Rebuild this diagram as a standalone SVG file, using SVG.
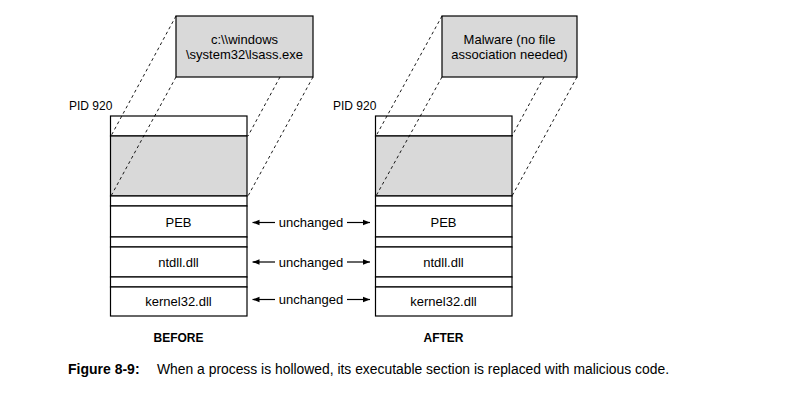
<svg xmlns="http://www.w3.org/2000/svg" width="800" height="418" viewBox="0 0 800 418">
<defs>
<marker id="ah" viewBox="0 0 10 10" refX="10" refY="5" markerWidth="7" markerHeight="7" markerUnits="userSpaceOnUse" orient="auto-start-reverse">
<path d="M0,1 L10,5 L0,9 Z" fill="#000"/>
</marker>
</defs>
<style>
.box{stroke:#000;stroke-width:1.2}
.g{fill:#d9d9d9}
.w{fill:#fff}
.t{font-family:"Liberation Sans",Arial,sans-serif;font-size:13px;fill:#000}
.p{font-family:"Liberation Sans",Arial,sans-serif;font-size:12px;fill:#000}
.b{font-family:"Liberation Sans",Arial,sans-serif;font-size:12px;font-weight:bold;fill:#000}
.d{stroke:#000;stroke-width:0.9;stroke-dasharray:3,3;fill:none}
.a{stroke:#000;stroke-width:1.2;fill:none}
.c{font-family:"Liberation Sans",Arial,sans-serif;font-size:14px;fill:#000}
</style>
<rect width="800" height="418" fill="#fff"/>

<g id="before-file">
<rect class="box g" x="176" y="16" width="137" height="61"/>
<text class="t" x="244.5" y="44" text-anchor="middle">c:\\windows</text>
<text class="t" x="244.5" y="59" text-anchor="middle">\system32\lsass.exe</text>
</g>
<g id="after-file">
<rect class="box g" x="442" y="16" width="135" height="61"/>
<text class="t" x="509.5" y="44" text-anchor="middle">Malware (no file</text>
<text class="t" x="509.5" y="59" text-anchor="middle">association needed)</text>
</g>

<g id="before-stack">
<rect class="box w" x="110.5" y="116" width="136.5" height="20"/>
<rect class="box g" x="110.5" y="136" width="136.5" height="60"/>
<rect class="box w" x="110.5" y="196" width="136.5" height="10"/>
<rect class="box w" x="110.5" y="206" width="136.5" height="31"/>
<rect class="box w" x="110.5" y="237" width="136.5" height="10"/>
<rect class="box w" x="110.5" y="247" width="136.5" height="30"/>
<rect class="box w" x="110.5" y="277" width="136.5" height="10"/>
<rect class="box w" x="110.5" y="287" width="136.5" height="29"/>
<text class="t" x="178.5" y="226.5" text-anchor="middle">PEB</text>
<text class="t" x="178.5" y="266.5" text-anchor="middle">ntdll.dll</text>
<text class="t" x="178.5" y="305.5" text-anchor="middle">kernel32.dll</text>
<text class="p" x="69" y="110">PID 920</text>
<text class="b" x="178.5" y="342" text-anchor="middle">BEFORE</text>
</g>

<g id="after-stack">
<rect class="box w" x="375.5" y="116" width="136.5" height="20"/>
<rect class="box g" x="375.5" y="136" width="136.5" height="60"/>
<rect class="box w" x="375.5" y="196" width="136.5" height="10"/>
<rect class="box w" x="375.5" y="206" width="136.5" height="31"/>
<rect class="box w" x="375.5" y="237" width="136.5" height="10"/>
<rect class="box w" x="375.5" y="247" width="136.5" height="30"/>
<rect class="box w" x="375.5" y="277" width="136.5" height="10"/>
<rect class="box w" x="375.5" y="287" width="136.5" height="29"/>
<text class="t" x="443.5" y="226.5" text-anchor="middle">PEB</text>
<text class="t" x="443.5" y="266.5" text-anchor="middle">ntdll.dll</text>
<text class="t" x="443.5" y="305.5" text-anchor="middle">kernel32.dll</text>
<text class="p" x="333" y="110">PID 920</text>
<text class="b" x="443.5" y="342" text-anchor="middle">AFTER</text>
</g>

<g id="connectors">
<line class="d" x1="176" y1="16" x2="111" y2="136"/>
<line class="d" x1="176" y1="77" x2="111" y2="196"/>
<line class="d" x1="280" y1="77" x2="248" y2="136"/>
<line class="d" x1="313" y1="77" x2="248" y2="196"/>
<line class="d" x1="442" y1="16" x2="376" y2="136"/>
<line class="d" x1="442" y1="77" x2="376" y2="196"/>
<line class="d" x1="544" y1="77" x2="512" y2="136"/>
<line class="d" x1="577" y1="77" x2="512" y2="196"/>
<line class="a" x1="275" y1="222.5" x2="252.5" y2="222.5" marker-end="url(#ah)"/>
<line class="a" x1="347" y1="222.5" x2="370" y2="222.5" marker-end="url(#ah)"/>
<line class="a" x1="275" y1="262" x2="252.5" y2="262" marker-end="url(#ah)"/>
<line class="a" x1="347" y1="262" x2="370" y2="262" marker-end="url(#ah)"/>
<line class="a" x1="275" y1="299.5" x2="252.5" y2="299.5" marker-end="url(#ah)"/>
<line class="a" x1="347" y1="299.5" x2="370" y2="299.5" marker-end="url(#ah)"/>
<text class="t" x="311" y="227" text-anchor="middle">unchanged</text>
<text class="t" x="311" y="266.5" text-anchor="middle">unchanged</text>
<text class="t" x="311" y="304" text-anchor="middle">unchanged</text>
</g>

<g id="caption">
<text class="c" x="68" y="374" font-weight="bold">Figure 8-9:</text>
<text class="c" x="157" y="374" textLength="512" lengthAdjust="spacingAndGlyphs">When a process is hollowed, its executable section is replaced with malicious code.</text>
</g>
</svg>
